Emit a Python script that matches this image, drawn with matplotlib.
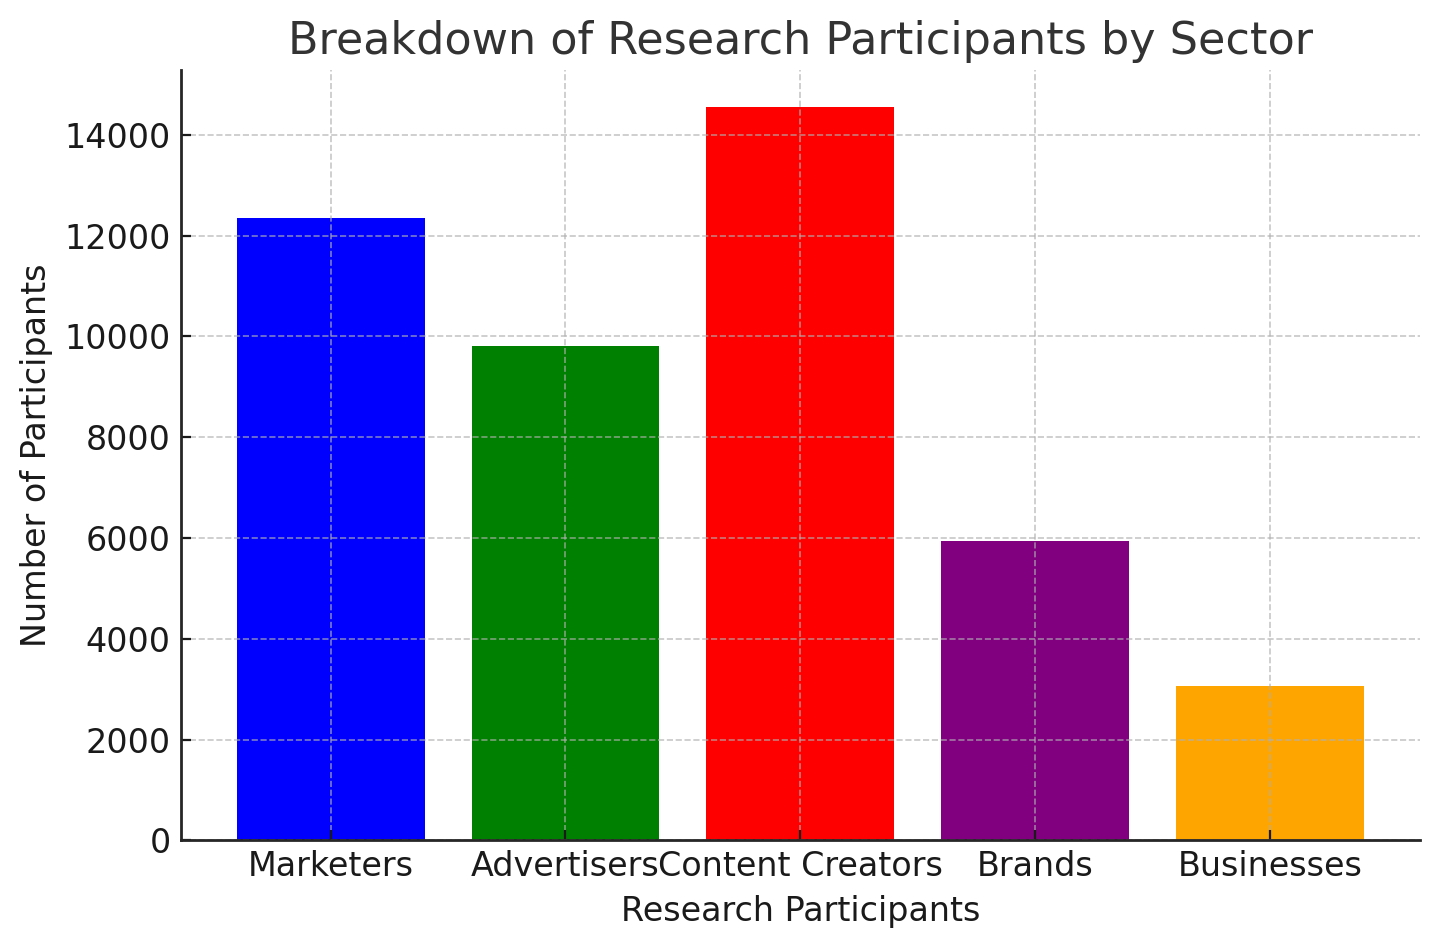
import matplotlib
matplotlib.use("Agg")
import matplotlib.pyplot as plt

sectors = ['Marketers', 'Advertisers', 'Content Creators', 'Brands', 'Businesses']
participants = [12350, 9810, 14560, 5940, 3060]
bar_colors = ['blue', 'green', 'red', 'purple', 'orange']

plt.rcParams['text.color'] = '#1a1a1a'
plt.rcParams['axes.labelcolor'] = '#1a1a1a'
plt.rcParams['xtick.labelcolor'] = '#1a1a1a'
plt.rcParams['ytick.labelcolor'] = '#1a1a1a'

fig, ax = plt.subplots(figsize=(7.2, 4.735), dpi=200)

ax.bar(sectors, participants, color=bar_colors)

ax.set_title('Breakdown of Research Participants by Sector', fontsize=16, color='#333333', pad=5.6)
ax.set_xlabel('Research Participants', fontsize=12, labelpad=4.3)
ax.set_ylabel('Number of Participants', fontsize=12)
ax.tick_params(axis='both', direction='in', labelsize=12, color='#1a1a1a', width=0.8)

ax.grid(True, linestyle='--', linewidth=0.6, color='#b0b0b0', alpha=0.7)
ax.spines['top'].set_visible(False)
ax.spines['right'].set_visible(False)
ax.spines['left'].set_linewidth(1.0)
ax.spines['bottom'].set_linewidth(1.0)
ax.spines['left'].set_color('#262626')
ax.spines['bottom'].set_color('#262626')

fig.subplots_adjust(left=180.5/1440, right=1420/1440, top=1-70/947, bottom=1-840.3/947)

plt.savefig('out.png', dpi=200)
